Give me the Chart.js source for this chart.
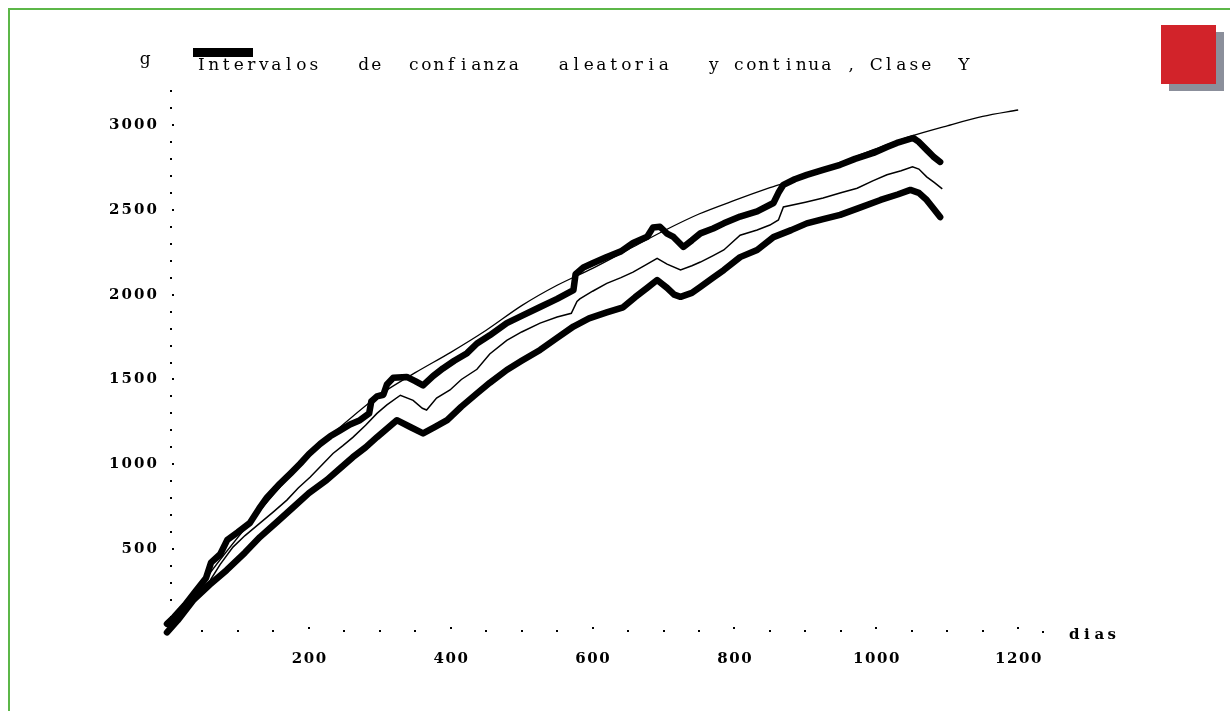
<!DOCTYPE html>
<html>
<head>
<meta charset="utf-8">
<script src="https://cdn.jsdelivr.net/npm/chart.js@4.4.1/dist/chart.umd.min.js"></script>
<style>
    html, body { margin: 0; padding: 0; background: #fff; }
    #wrap { position: relative; width: 1230px; height: 711px; overflow: hidden; }
    #chart { position: absolute; left: 0; top: 0; }
    .frame { position: absolute; left: 8px; top: 8px; width: 1230px; height: 720px;
             border-top: 2px solid #5cb748; border-left: 2px solid #5cb748; }
    .shadow { position: absolute; left: 1169px; top: 32px; width: 55px; height: 59px; background: #8b8f9b; }
    .badge { position: absolute; left: 1161px; top: 25px; width: 55px; height: 59px; background: #d2232a; }
    .blot { position: absolute; left: 193px; top: 48px; width: 60px; height: 9px; background: #000; }
</style>
</head>
<body>
<div id="wrap">
    <canvas id="chart" width="1230" height="711"></canvas>
    <div class="frame"></div>
    <div class="shadow"></div>
    <div class="badge"></div>
    <div class="blot"></div>
</div>
<script>
// Continuous model curve
const curveDays = [0, 50, 100, 150, 200, 250, 300, 350, 400, 450, 500, 550, 600, 650, 700, 750, 800, 850, 900, 950, 1000, 1050, 1100, 1150, 1200];
const curveValues = [0, 300, 570, 820, 1050, 1240, 1410, 1540, 1660, 1790, 1935, 2055, 2155, 2265, 2375, 2475, 2555, 2630, 2700, 2780, 2860, 2935, 2995, 3050, 3088];

// Upper random interval
const upperDays = [0, 10, 25, 40, 55, 62, 75, 85, 100, 117, 130, 141, 159, 175, 188, 200, 216, 230, 244, 258, 272, 285, 288, 296, 305, 310, 319, 338, 350, 361, 375, 389, 405, 423, 437, 455, 479, 500, 526, 550, 573, 576, 587, 600, 620, 640, 657, 677, 685, 695, 705, 714, 728, 740, 752, 770, 785, 808, 832, 855, 862, 869, 885, 902, 925, 949, 970, 996, 1015, 1029, 1052, 1060, 1071, 1080, 1090];
const upperValues = [60, 100, 170, 250, 330, 420, 470, 555, 600, 655, 740, 805, 885, 950, 1005, 1060, 1120, 1165, 1200, 1235, 1260, 1300, 1370, 1400, 1410, 1470, 1510, 1515, 1490, 1465, 1520, 1565, 1610, 1655, 1712, 1760, 1832, 1875, 1927, 1975, 2027, 2120, 2160, 2185, 2222, 2255, 2304, 2341, 2395, 2400, 2360, 2340, 2281, 2320, 2361, 2390, 2420, 2460, 2490, 2540, 2600, 2647, 2680, 2706, 2735, 2765, 2800, 2835, 2870, 2894, 2923, 2900, 2853, 2815, 2782];

// Middle estimate
const middleDays = [0, 14, 30, 45, 61, 75, 93, 110, 131, 150, 169, 185, 202, 218, 234, 248, 262, 280, 296, 310, 329, 347, 360, 366, 380, 399, 415, 437, 455, 479, 500, 526, 550, 570, 578, 582, 600, 620, 640, 657, 675, 691, 705, 724, 740, 752, 770, 785, 808, 832, 850, 862, 869, 900, 925, 950, 973, 995, 1015, 1035, 1051, 1060, 1071, 1082, 1093];
const middleValues = [40, 99, 190, 260, 317, 410, 512, 580, 653, 720, 789, 860, 925, 995, 1064, 1110, 1159, 1230, 1300, 1350, 1407, 1377, 1330, 1320, 1390, 1438, 1500, 1560, 1650, 1730, 1780, 1832, 1868, 1890, 1960, 1975, 2020, 2066, 2100, 2133, 2175, 2214, 2180, 2145, 2170, 2192, 2230, 2263, 2350, 2381, 2410, 2440, 2517, 2545, 2569, 2600, 2627, 2670, 2706, 2730, 2753, 2740, 2694, 2660, 2623];

// Lower random interval
const lowerDays = [0, 15, 37, 60, 84, 110, 131, 155, 178, 200, 225, 245, 262, 280, 296, 310, 324, 343, 361, 378, 395, 415, 437, 455, 479, 500, 526, 550, 573, 595, 620, 643, 660, 677, 691, 705, 715, 724, 740, 752, 770, 785, 808, 832, 855, 880, 902, 925, 949, 975, 1006, 1030, 1048, 1060, 1071, 1080, 1090];
const lowerValues = [10, 80, 199, 290, 376, 480, 571, 660, 747, 830, 907, 980, 1042, 1100, 1160, 1210, 1260, 1220, 1182, 1220, 1260, 1340, 1418, 1480, 1556, 1610, 1674, 1745, 1812, 1860, 1895, 1925, 1985, 2040, 2086, 2040, 2000, 1987, 2010, 2046, 2100, 2145, 2221, 2263, 2339, 2380, 2420, 2445, 2470, 2510, 2558, 2590, 2617, 2600, 2558, 2510, 2457];

// Axis labels
const xTickLabels = [200, 400, 600, 800, 1000, 1200];
const yTickLabels = [500, 1000, 1500, 2000, 2500, 3000];
const titleText = 'Intervalos   de  confianza   aleatoria   y continua , Clase  Y';

function toPoints(days, values) {
    return days.map((d, i) => ({ x: d, y: values[i] }));
}

// Draw text one character per fixed cell, like the old bitmap font
function drawSpaced(ctx, text, x, y, advance, align) {
    const w = text.length * advance;
    let start = x;
    if (align === 'right') start = x - w;
    if (align === 'center') start = x - w / 2;
    ctx.textAlign = 'center';
    for (let i = 0; i < text.length; i++) {
        ctx.fillText(text[i], start + advance * (i + 0.5), y);
    }
}

// Dotted axes, tick labels and title
const axisDecor = {
    id: 'axisDecor',
    afterDraw(chart) {
        const ctx = chart.ctx;
        const xs = chart.scales.x;
        const ys = chart.scales.y;
        const x0 = xs.getPixelForValue(0);
        const y0 = ys.getPixelForValue(0);
        ctx.save();
        ctx.fillStyle = '#000';

        for (let v = 100; v <= ys.max; v += 100) {
            const major = v % 500 === 0;
            ctx.fillRect(Math.round(x0 + (major ? 5 : 3)), Math.round(ys.getPixelForValue(v)) - 1, 2, 2);
        }
        for (let d = 50; d <= xs.max; d += 50) {
            const major = d % 200 === 0;
            ctx.fillRect(Math.round(xs.getPixelForValue(d)) - 1, Math.round(y0 - (major ? 7 : 4)), 2, 2);
        }
        ctx.fillRect(Math.round(xs.getPixelForValue(xs.max)) - 1, Math.round(y0 - 3), 2, 2);

        ctx.textBaseline = 'middle';
        ctx.font = 'bold 15px "DejaVu Serif"';
        yTickLabels.forEach(v => {
            drawSpaced(ctx, String(v), 158, ys.getPixelForValue(v), 12.5, 'right');
        });
        xTickLabels.forEach(d => {
            drawSpaced(ctx, String(d), xs.getPixelForValue(d), 659, 12, 'center');
        });
        drawSpaced(ctx, 'dias', 1068, 635, 12.5, 'left');

        ctx.font = '17px "DejaVu Serif"';
        drawSpaced(ctx, 'g', 139, 60, 12.5, 'left');
        drawSpaced(ctx, titleText, 195, 66, 12.5, 'left');
        ctx.restore();
    }
};

const bandStyle = {
    borderColor: '#000',
    borderWidth: 6.5,
    borderJoinStyle: 'round',
    borderCapStyle: 'round',
    pointRadius: 0,
    tension: 0,
    clip: false
};

new Chart(document.getElementById('chart'), {
    type: 'line',
    data: {
        datasets: [
            Object.assign({ label: 'Superior', data: toPoints(upperDays, upperValues) }, bandStyle),
            Object.assign({ label: 'Inferior', data: toPoints(lowerDays, lowerValues) }, bandStyle),
            {
                label: 'Estimado',
                data: toPoints(middleDays, middleValues),
                borderColor: '#000',
                borderWidth: 1.5,
                pointRadius: 0,
                tension: 0,
                clip: false
            },
            {
                label: 'Continua',
                data: toPoints(curveDays, curveValues),
                borderColor: '#000',
                borderWidth: 1.3,
                pointRadius: 0,
                tension: 0.3,
                clip: false
            }
        ]
    },
    options: {
        responsive: false,
        animation: false,
        events: [],
        layout: { padding: { left: 167, right: 187, top: 91, bottom: 77 } },
        plugins: { legend: { display: false }, tooltip: { enabled: false } },
        scales: {
            x: { type: 'linear', min: 0, max: 1235, display: false },
            y: { type: 'linear', min: 0, max: 3200, display: false }
        }
    },
    plugins: [axisDecor]
});
</script>
</body>
</html>
